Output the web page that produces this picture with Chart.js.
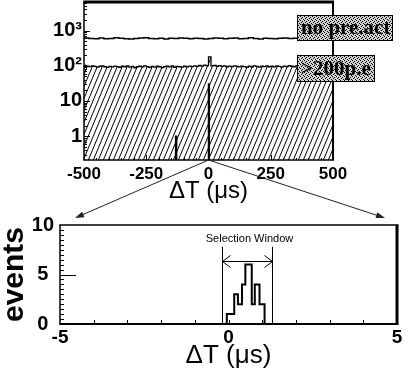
<!DOCTYPE html>
<html><head><meta charset="utf-8">
<script src="https://cdn.jsdelivr.net/npm/chart.js@4.4.0/dist/chart.umd.min.js"></script>
<style>
html,body{margin:0;padding:0;background:#fff;}
#wrap{position:relative;width:409px;height:376px;overflow:hidden;background:#fff}
#top{position:absolute;left:0;top:0;width:409px;height:205px}
#bot{position:absolute;left:0;top:200px;width:409px;height:176px}
#ovl{position:absolute;left:0;top:0;width:409px;height:376px;pointer-events:none}
</style></head><body>
<div id="wrap">
<canvas id="top" width="409" height="205"></canvas>
<canvas id="bot" width="409" height="176"></canvas>
<canvas id="ovl" width="409" height="376"></canvas>
</div>
<script>
// ---------------- data ----------------
const seriesNames = ['no pre.act', '>200p.e'];
const topXTicks = [-500, -250, 0, 250, 500];
const topYTicks = [1, 10, 100, 1000];
const topYLabels = ['1', '10', '10²', '10³'];
const botXTicks = [-5, 0, 5];
const botYTicks = [0, 5, 10];

// "no pre.act" histogram, 20 us bins from -500
const noPreActStart = -500, noPreActWidth = 20;
const noPreAct = [620, 600, 590, 615, 585, 600, 630, 605, 590, 575,
                  600, 615, 625, 600, 585, 605, 580, 610, 600, 620,
                  605, 590, 610, 600, 580, 600, 620, 610, 590, 605,
                  615, 590, 600, 625, 600, 580, 610, 600, 590, 605,
                  620, 600, 610, 590, 600, 605, 620, 610, 600, 590];

// ">200p.e" histogram, 10 us bins from -500
const gt200Start = -500, gt200Width = 10;
const gt200 = [102, 98, 95, 100, 96, 92, 97, 99, 94, 90,
               96, 93, 98, 95, 91, 97, 94, 99, 92, 96,
               88, 94, 97, 93, 99, 95, 90, 96, 92, 98,
               94, 89, 95, 97, 93, 99, 91, 96, 94, 92,
               97, 93, 98, 95, 100, 96, 102, 98, 104, 101,
               180, 99, 103, 97, 101, 96, 99, 94, 98, 95,
               100, 96, 93, 98, 95, 91, 97, 94, 99, 96,
               92, 98, 95, 100, 94, 97, 93, 99, 96, 92,
               98, 95, 101, 97, 94, 99, 96, 92, 98, 95,
               100, 96, 93, 98, 95, 97, 94, 99, 96, 95];

// selected (coincident) events, solid black
const selLo  = [-136, -4];
const selHi  = [-124, 6];
const selVal = [1.05, 32];

// zoomed histogram (bottom)
const botEdges  = [-0.05, 0.17, 0.28, 0.40, 0.50, 0.69, 0.78, 0.92, 1.07];
const botCounts = [1, 3, 2, 4, 6, 2, 4, 2];
const windowEdges = [-0.2, 1.3];
const windowTop = 7.8, windowArrowY = 6.4, windowLabelY = 8.55;
const windowLabel = 'Selection Window';

// ---------------- helpers ----------------
function histPoints(start, width, vals){
  const pts = vals.map((v,i)=>({x:start+i*width, y:v}));
  pts.push({x:start+vals.length*width, y:vals[vals.length-1]});
  return pts;
}
function hatchPattern(){
  const c=document.createElement('canvas'); c.width=5; c.height=12;
  const g=c.getContext('2d'); g.strokeStyle='#000'; g.lineWidth=1;
  [-5,0,5].forEach(dx=>{g.beginPath(); g.moveTo(dx-1,14.4); g.lineTo(dx+6,-2.4); g.stroke();});
  return g.createPattern(c,'repeat');
}
function stipplePattern(){
  const c=document.createElement('canvas'); c.width=4; c.height=4;
  const g=c.getContext('2d'); g.fillStyle='#d2d2d2'; g.fillRect(0,0,4,4);
  g.fillStyle='#000'; [[0,0],[2,1],[1,2],[3,3]].forEach(p=>g.fillRect(p[0],p[1],1,1));
  return g.createPattern(c,'repeat');
}
const SANS = "'Liberation Sans', Arial, Helvetica, sans-serif";
const SERIF = "'Liberation Serif', 'Times New Roman', serif";

const framePlugin = {
  id:'frame',
  afterDraw(chart, args, o){
    const ctx=chart.ctx, a=chart.chartArea, xs=chart.scales.x, ys=chart.scales.y;
    ctx.save(); ctx.strokeStyle='#000';
    const seg=(x1,y1,x2,y2,w)=>{ctx.lineWidth=w;ctx.beginPath();ctx.moveTo(x1,y1);ctx.lineTo(x2,y2);ctx.stroke();};
    (o.xTicks||[]).forEach(t=>{const px=Math.round(xs.getPixelForValue(t[0]))+0.5; seg(px,a.bottom,px,a.bottom-t[1],1);});
    (o.yTicks||[]).forEach(t=>{const py=Math.round(ys.getPixelForValue(t[0]))+0.5; seg(a.left,py,a.left+t[1],py,1);});
    const b=o.border;
    seg(a.left-b.left/2, a.top, a.right+b.right/2, a.top, b.top);
    seg(a.left-b.left/2, a.bottom, a.right+b.right/2, a.bottom, b.bottom);
    seg(a.left, a.top, a.left, a.bottom, b.left);
    seg(a.right, a.top, a.right, a.bottom, b.right);
    ctx.restore();
  }
};

const boxesPlugin = {
  id:'boxes',
  afterDraw(chart){
    const ctx=chart.ctx, a=chart.chartArea;
    const pat = stipplePattern();
    const boxes = [
      {text:seriesNames[0], x:a.right-36, y:15, w:96, h:26},
      {text:seriesNames[1], x:a.right-36, y:55, w:78, h:27}
    ];
    ctx.save();
    boxes.forEach(b=>{
      ctx.fillStyle=pat; ctx.fillRect(b.x,b.y,b.w,b.h);
      ctx.strokeStyle='#000'; ctx.lineWidth=1; ctx.strokeRect(b.x+0.5,b.y+0.5,b.w-1,b.h-1);
      ctx.fillStyle='#000'; ctx.font='bold 21px '+SERIF; ctx.textAlign='left'; ctx.textBaseline='middle';
      ctx.fillText(b.text, b.x+4, b.y+b.h/2+1);
    });
    ctx.restore();
  }
};

const windowPlugin = {
  id:'selwin',
  afterDraw(chart){
    const ctx=chart.ctx, xs=chart.scales.x, ys=chart.scales.y;
    const xl=Math.round(xs.getPixelForValue(windowEdges[0]))+0.5, xr=Math.round(xs.getPixelForValue(windowEdges[1]))+0.5;
    const yt=ys.getPixelForValue(windowTop), yb=ys.getPixelForValue(0);
    const ya=Math.round(ys.getPixelForValue(windowArrowY))+0.5;
    ctx.save(); ctx.strokeStyle='#000'; ctx.lineWidth=1;
    ctx.beginPath(); ctx.moveTo(xl,yt); ctx.lineTo(xl,yb); ctx.moveTo(xr,yt); ctx.lineTo(xr,yb);
    ctx.moveTo(xl,ya); ctx.lineTo(xr,ya);
    ctx.moveTo(xl+8,ya-6); ctx.lineTo(xl,ya); ctx.lineTo(xl+8,ya+6);
    ctx.moveTo(xr-8,ya-6); ctx.lineTo(xr,ya); ctx.lineTo(xr-8,ya+6);
    ctx.stroke();
    ctx.fillStyle='#000'; ctx.font='11px '+SANS; ctx.textAlign='center'; ctx.textBaseline='middle';
    ctx.fillText(windowLabel, (xl+xr)/2+2, ys.getPixelForValue(windowLabelY));
    ctx.restore();
  }
};

// ---------------- top chart ----------------
const spikePts = [];
selLo.forEach((lo,i)=>{ spikePts.push({x:lo,y:selVal[i]},{x:selHi[i],y:selVal[i]},{x:selHi[i],y:null}); });

const topYMinor = [];
[0.1,1,10,100,1000].forEach(d=>{ for(let m=2;m<=9;m++){ const v=m*d; if(v>0.21 && v<6500) topYMinor.push([v,3]); }});
topYTicks.forEach(v=>topYMinor.push([v,6]));
const topXMarks = [];
for(let v=-450; v<500; v+=50){ topXMarks.push([v, v%250===0?5:2]); }

const topChart = new Chart(document.getElementById('top'), {
  type:'line',
  data:{ datasets:[
    {label:seriesNames[0], data:histPoints(noPreActStart,noPreActWidth,noPreAct), stepped:true, borderColor:'#000', borderWidth:1.5, pointRadius:0, fill:false, order:3},
    {label:seriesNames[1], data:histPoints(gt200Start,gt200Width,gt200), stepped:true, borderColor:'#000', borderWidth:1.3, pointRadius:0, fill:'start', backgroundColor:hatchPattern(), order:2},
    {label:'selected', data:spikePts, borderWidth:0, borderColor:'#000', pointRadius:0, fill:'start', backgroundColor:'#000', spanGaps:false, order:1}
  ]},
  options:{
    responsive:false, animation:false, events:[],
    layout:{padding:{top:2,right:76,left:0,bottom:0}},
    plugins:{legend:{display:false}, tooltip:{enabled:false},
      frame:{border:{top:3,right:2,bottom:1.5,left:1.5}, xTicks:topXMarks, yTicks:topYMinor}},
    scales:{
      x:{type:'linear', min:-500, max:500,
        afterBuildTicks:s=>{s.ticks=topXTicks.map(v=>({value:v}));},
        afterFit:s=>{s.height=45; s.paddingLeft=0; s.paddingRight=0;},
        grid:{display:false, drawTicks:false}, border:{display:false},
        ticks:{padding:4, maxRotation:0, color:'#000', font:{family:SANS, weight:'bold', size:17}, callback:v=>String(v)},
        title:{display:true, text:'ΔT (μs)', color:'#000', font:{family:SANS, size:24, lineHeight:1}, padding:{top:0,bottom:2}}
      },
      y:{type:'logarithmic', min:0.21, max:6500,
        afterBuildTicks:s=>{s.ticks=topYTicks.map(v=>({value:v}));},
        afterFit:s=>{s.width=84; s.paddingTop=0; s.paddingBottom=0;},
        grid:{display:false, drawTicks:false}, border:{display:false},
        ticks:{padding:2, color:'#000', font:{family:SANS, weight:'bold', size:20},
          callback:(v)=>{const i=topYTicks.indexOf(v); return i>=0?topYLabels[i]:'';}}
      }
    }
  },
  plugins:[framePlugin, boxesPlugin]
});

// ---------------- bottom chart ----------------
const botPts = [{x:botEdges[0], y:0}];
botCounts.forEach((c,i)=>botPts.push({x:botEdges[i], y:c}));
botPts.push({x:botEdges[botEdges.length-1], y:botCounts[botCounts.length-1]});
botPts.push({x:botEdges[botEdges.length-1], y:0});

const botYMarks = [];
for(let v=0.5; v<10; v+=0.5){ botYMarks.push([v, v===5?16:4]); }
const botXMarks = [];
for(let v=-4; v<=4; v++){ botXMarks.push([v,4]); }

const botChart = new Chart(document.getElementById('bot'), {
  type:'line',
  data:{ datasets:[
    {label:'events', data:botPts, stepped:true, borderColor:'#000', borderWidth:2, pointRadius:0, fill:false}
  ]},
  options:{
    responsive:false, animation:false, events:[],
    layout:{padding:{top:25,right:12,left:0,bottom:0}},
    plugins:{legend:{display:false}, tooltip:{enabled:false},
      frame:{border:{top:1.5,right:3,bottom:2,left:1.5}, xTicks:botXMarks, yTicks:botYMarks}},
    scales:{
      x:{type:'linear', min:-5, max:5,
        afterBuildTicks:s=>{s.ticks=botXTicks.map(v=>({value:v}));},
        afterFit:s=>{s.height=52; s.paddingLeft=0; s.paddingRight=0;},
        grid:{display:false, drawTicks:false}, border:{display:false},
        ticks:{padding:2, maxRotation:0, color:'#000', font:{family:SANS, weight:'bold', size:19}, callback:v=>String(v)},
        title:{display:true, text:'ΔT (μs)', color:'#000', font:{family:SANS, size:26, lineHeight:1}, padding:{top:0,bottom:7}}
      },
      y:{type:'linear', min:0, max:10,
        afterBuildTicks:s=>{s.ticks=botYTicks.map(v=>({value:v}));},
        afterFit:s=>{s.width=60; s.paddingTop=0; s.paddingBottom=0;},
        grid:{display:false, drawTicks:false}, border:{display:false},
        ticks:{padding:6, crossAlign:'center', color:'#000', font:{family:SANS, weight:'bold', size:20}, callback:v=>String(v)},
        title:{display:true, text:'events', color:'#000', font:{family:SANS, weight:'bold', size:30, lineHeight:1}, padding:{top:0,bottom:0}}
      }
    }
  },
  plugins:[framePlugin, windowPlugin]
});

// ---------------- connecting arrows ----------------
(function(){
  const c=document.getElementById('ovl').getContext('2d');
  const x0=topChart.scales.x.getPixelForValue(0), y0=topChart.chartArea.bottom;
  const offY=200, ba=botChart.chartArea;
  const ends=[[ba.left+15, offY+ba.top-7],[ba.right-12, offY+ba.top-7]];
  c.strokeStyle='#222'; c.fillStyle='#222'; c.lineWidth=1;
  ends.forEach(([x1,y1])=>{
    const ang=Math.atan2(y1-y0,x1-x0), L=9, W=3;
    c.beginPath(); c.moveTo(x0,y0); c.lineTo(x1-Math.cos(ang)*L*0.6,y1-Math.sin(ang)*L*0.6); c.stroke();
    c.beginPath(); c.moveTo(x1,y1);
    c.lineTo(x1-Math.cos(ang)*L+Math.sin(ang)*W, y1-Math.sin(ang)*L-Math.cos(ang)*W);
    c.lineTo(x1-Math.cos(ang)*L-Math.sin(ang)*W, y1-Math.sin(ang)*L+Math.cos(ang)*W);
    c.closePath(); c.fill();
  });
})();
</script></body></html>
